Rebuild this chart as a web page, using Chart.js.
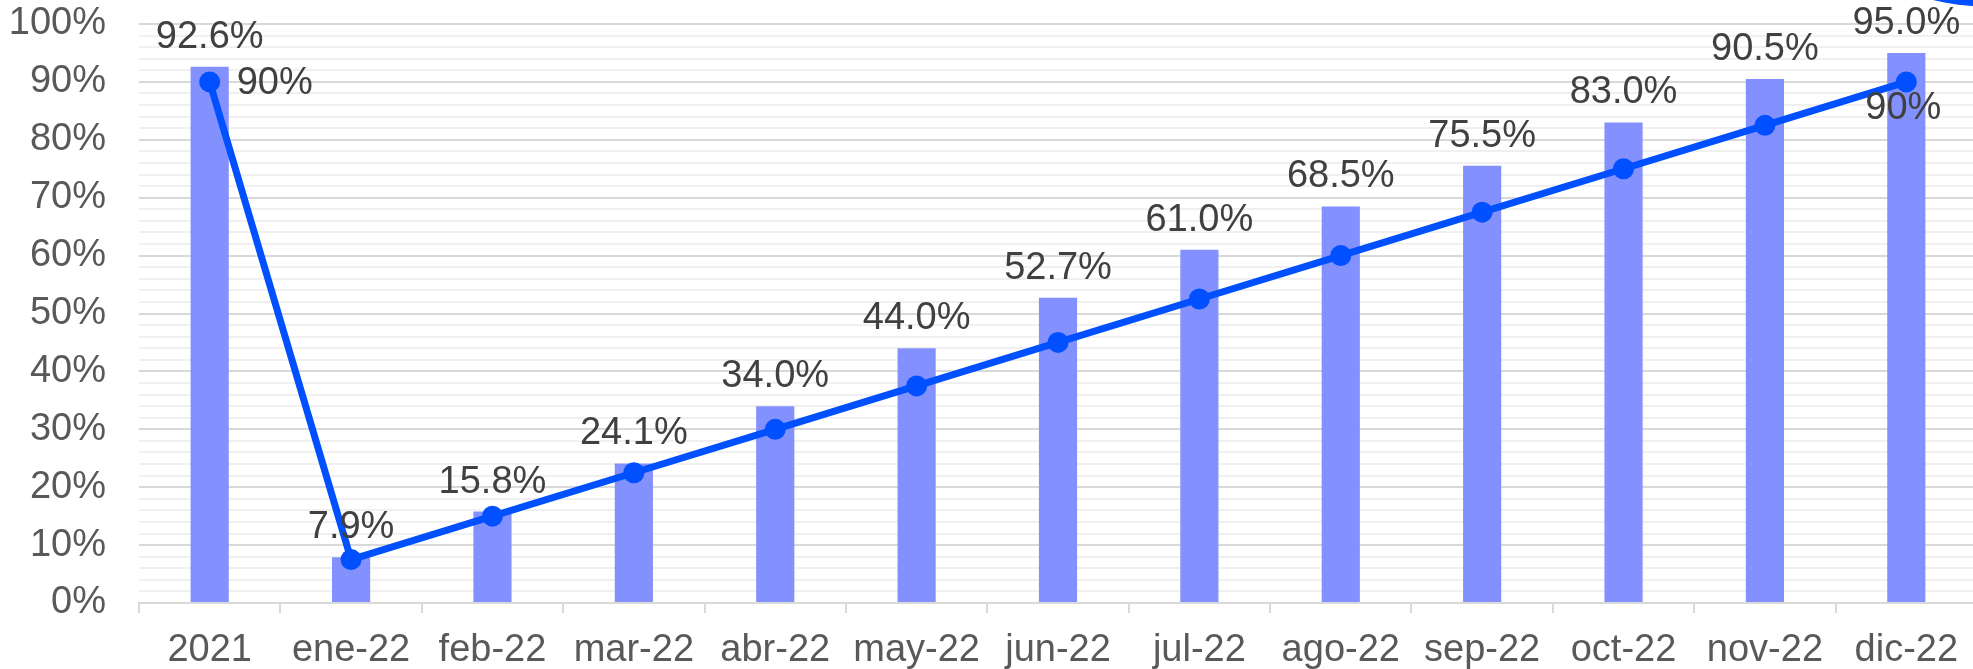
<!DOCTYPE html>
<html>
<head>
<meta charset="utf-8">
<script src="https://cdn.jsdelivr.net/npm/chart.js@4.4.1/dist/chart.umd.min.js"></script>
<style>
  html, body { margin: 0; padding: 0; background: #fff; overflow: hidden; }
  #wrap { width: 1977px; height: 669px; }
</style>
</head>
<body>
<div id="wrap"><canvas id="chart"></canvas></div>
<script>
var categories = ['2021', 'ene-22', 'feb-22', 'mar-22', 'abr-22', 'may-22', 'jun-22', 'jul-22', 'ago-22', 'sep-22', 'oct-22', 'nov-22', 'dic-22'];
var realValues = [92.6, 7.9, 15.8, 24.1, 34.0, 44.0, 52.7, 61.0, 68.5, 75.5, 83.0, 90.5, 95.0];
var goalValues = [90, 7.5, 15, 22.5, 30, 37.5, 45, 52.5, 60, 67.5, 75, 82.5, 90];

var FONT = '"Liberation Sans", Arial, sans-serif';
var FSIZE = 38;

// labels drawn by hand, no datalabels plugin available
var labelsPlugin = {
    id: 'labels',
    afterDatasetsDraw: function(chart){
        var ctx = chart.ctx;
        ctx.save();
        ctx.font = FSIZE + 'px ' + FONT;
        ctx.fillStyle = '#404040';
        ctx.textAlign = 'center';
        ctx.textBaseline = 'alphabetic';
        var bars = chart.getDatasetMeta(0).data;
        bars.forEach(function(bar, i){
            ctx.fillText(realValues[i].toFixed(1) + '%', bar.x, bar.y - 19);
        });
        var pts = chart.getDatasetMeta(1).data;
        var first = pts[0], last = pts[pts.length - 1];
        ctx.textAlign = 'left';
        ctx.textBaseline = 'middle';
        ctx.fillText(goalValues[0] + '%', first.x + 27, first.y + 2);
        ctx.textAlign = 'center';
        ctx.textBaseline = 'top';
        ctx.fillText(goalValues[goalValues.length - 1] + '%', last.x - 3, last.y + 8);
        ctx.restore();
    },
    afterDraw: function(chart){
        // stray blue shape in the corner
        var ctx = chart.ctx;
        ctx.save();
        ctx.fillStyle = '#0050ff';
        ctx.beginPath();
        ctx.ellipse(1995, -53, 132, 60, 0, 0, Math.PI * 2);
        ctx.fill();
        ctx.restore();
    }
};

new Chart(document.getElementById('chart'), {
    type: 'bar',
    data: {
        labels: categories,
        datasets: [{
            type: 'bar',
            data: realValues,
            backgroundColor: '#8391ff',
            barPercentage: 0.27,
            categoryPercentage: 1,
            order: 2
        }, {
            type: 'line',
            data: goalValues,
            borderColor: '#0050ff',
            backgroundColor: '#0050ff',
            borderWidth: 7,
            pointRadius: 10.5,
            pointBorderWidth: 0,
            pointHoverRadius: 10.5,
            tension: 0,
            clip: false,
            order: 1
        }]
    },
    options: {
        responsive: true,
        maintainAspectRatio: false,
        animation: false,
        events: [],
        layout: { autoPadding: false, padding: { top: 24, left: 0, right: 0, bottom: 0 } },
        plugins: { legend: { display: false }, tooltip: { enabled: false } },
        scales: {
            x: {
                grid: { drawOnChartArea: false, tickLength: 10, color: '#d9d9d9', lineWidth: 2, offset: true },
                border: { color: '#d9d9d9', width: 2 },
                ticks: { color: '#595959', font: { family: FONT, size: FSIZE }, padding: 15, maxRotation: 0, autoSkip: false },
                afterFit: function(scale){
                    scale.height = 66;
                    scale.paddingLeft = 0;
                    scale.paddingRight = 0;
                }
            },
            y: {
                min: 0,
                max: 100,
                grid: {
                    drawTicks: false,
                    color: function(c){ return c.tick && c.tick.value % 10 === 0 ? '#d9d9d9' : '#f0f0f0'; },
                    lineWidth: 2
                },
                border: { display: false },
                ticks: {
                    stepSize: 2,
                    autoSkip: false,
                    color: '#595959',
                    font: { family: FONT, size: FSIZE },
                    padding: 33,
                    callback: function(v){ return v % 10 === 0 ? v + '%' : ''; }
                },
                afterFit: function(scale){
                    scale.width = 139;
                    scale.paddingTop = 0;
                    scale.paddingBottom = 0;
                }
            }
        }
    },
    plugins: [labelsPlugin]
});
</script>
</body>
</html>
